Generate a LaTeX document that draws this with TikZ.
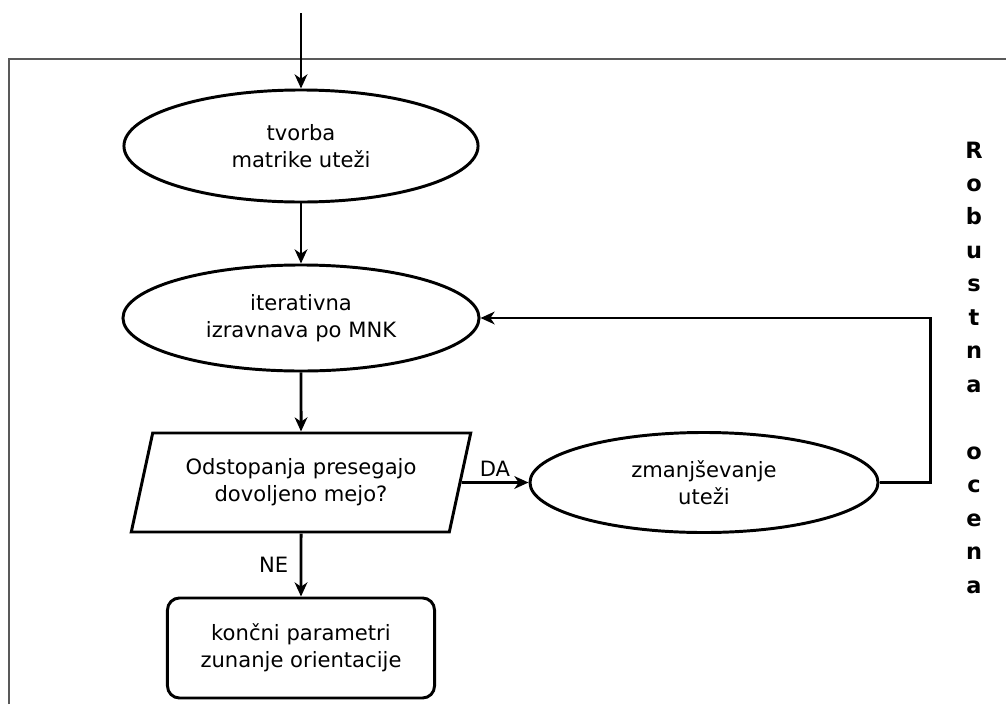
\documentclass[tikz,border=0pt]{standalone}
\usepackage{fontspec}
\setmainfont{DejaVu Sans}
\usetikzlibrary{shapes.geometric,arrows.meta}
\begin{document}
\begin{tikzpicture}[x=0.025cm,y=-0.025cm,
  line width=2.1pt,>={Stealth[length=10pt,width=9pt,inset=3pt]},
  every node/.style={font=\fontsize{15}{19}\selectfont,align=center,inner sep=0pt},
  oval/.style={draw,ellipse},
  question/.style={draw,trapezium,trapezium left angle=70.5,trapezium right angle=109.5,
    trapezium stretches=true,minimum width=8.5cm,minimum height=2.475cm},
  result/.style={draw,rounded corners=0.3cm,minimum width=6.675cm,minimum height=2.5cm}]
  \useasboundingbox (0,0) rectangle (1006,704);
  \draw[line width=0.8pt,black!65] (9,704) -- (9,59) -- (1006,59);
  \coordinate (in) at (301,13);
  \node[oval,minimum width=8.85cm,minimum height=2.8cm] (weights) at (301,146) {tvorba\\matrike uteži};
  \node[oval,minimum width=8.9cm,minimum height=2.65cm] (lsq) at (301,318) {iterativna\\izravnava po MNK};
  \node[question] (check) at (301,482.5) {Odstopanja presegajo\\dovoljeno mejo?};
  \node[oval,minimum width=8.7cm,minimum height=2.5cm] (reduce) at (704,482.5) {zmanjševanje\\uteži};
  \node[result] (final) at (301,648) {končni parametri\\zunanje orientacije};
  \node[font=\fontsize{16}{23.8}\selectfont\bfseries] (robust) at (974,367.5)
    {R\\o\\b\\u\\s\\t\\n\\a\\\mbox{}\\o\\c\\e\\n\\a};
  \draw[->] (in) -- (weights);
  \draw[->] (weights) -- (lsq);
  \draw[->] (lsq) -- (check);
  \draw[->] (check.east) -- node[above=3pt] {DA} (reduce.west);
  \draw[->] (check) -- node[left=8pt] {NE} (final);
  \draw[->] (reduce.east) -- ++(51,0) |- (lsq.east);
\end{tikzpicture}
\end{document}
